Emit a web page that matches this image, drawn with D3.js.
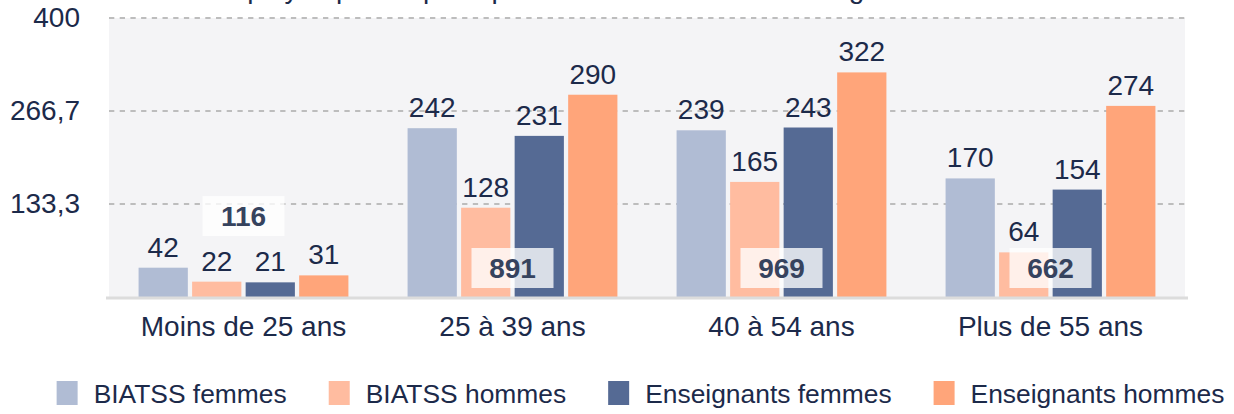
<!DOCTYPE html>
<html>
<head>
<meta charset="utf-8">
<script src="https://cdn.jsdelivr.net/npm/d3@7/dist/d3.min.js"></script>
<style>
  html, body { margin: 0; padding: 0; background: #ffffff; }
  svg { display: block; }
  text { font-family: "Liberation Sans", Arial, Helvetica, sans-serif; }
</style>
</head>
<body>
<svg id="chart" width="1234" height="414"></svg>
<script>
// ---- data ----
const titleText = "Nombre d'employés par corps et par sexe selon la tranche d'âge";
const categories = ["Moins de 25 ans", "25 à 39 ans", "40 à 54 ans", "Plus de 55 ans"];
const seriesNames = ["BIATSS femmes", "BIATSS hommes", "Enseignants femmes", "Enseignants hommes"];
const biatssFemmes = [42, 242, 239, 170];
const biatssHommes = [22, 128, 165, 64];
const enseignantsFemmes = [21, 231, 243, 154];
const enseignantsHommes = [31, 290, 322, 274];
const totals = [116, 891, 969, 662];
const yTickValues = [133.3, 266.7, 400];
const yTickLabels = ["133,3", "266,7", "400"];
const yMax = 400;
const seriesColors = ["#b0bcd4", "#ffbca0", "#556a94", "#ffa57a"];

const seriesValues = [biatssFemmes, biatssHommes, enseignantsFemmes, enseignantsHommes];

// ---- layout ----
const svg = d3.select("#chart");
const plotLeft = 109, plotRight = 1185, plotTop = 18, plotBottom = 297;
const textColor = "#1c2a4a";
const fs = 28;

const x0 = d3.scaleBand().domain(categories).range([plotLeft, plotRight])
  .paddingInner(0.22).paddingOuter(0.11);
const x1 = d3.scaleBand().domain(seriesNames).range([0, x0.bandwidth()])
  .paddingInner(0.08).paddingOuter(0);
const y = d3.scaleLinear().domain([0, yMax]).range([plotBottom, plotTop]);
const color = d3.scaleOrdinal().domain(seriesNames).range(seriesColors);

// title (cut off at the top in the reference)
svg.append("text")
  .attr("x", 80).attr("y", -2)
  .attr("font-size", fs).attr("fill", textColor)
  .text(titleText);

// plot background
svg.append("rect")
  .attr("x", plotLeft).attr("y", y(yMax))
  .attr("width", plotRight - plotLeft).attr("height", plotBottom - y(yMax))
  .attr("fill", "#f4f4f6");

// gridlines
svg.append("g").selectAll("line")
  .data(yTickValues).join("line")
  .attr("x1", plotLeft).attr("x2", plotRight)
  .attr("y1", d => y(d)).attr("y2", d => y(d))
  .attr("stroke", "#bdbdbd").attr("stroke-width", 2.2)
  .attr("stroke-dasharray", "5.3,5.4");

// y axis labels
const yAxis = d3.axisLeft(y).tickValues(yTickValues)
  .tickFormat((d, i) => yTickLabels[i]).tickSize(0).tickPadding(0);
const yAxisG = svg.append("g").attr("transform", `translate(${80},0)`).call(yAxis);
yAxisG.select(".domain").remove();
yAxisG.selectAll("text")
  .attr("font-family", "'Liberation Sans', Arial, sans-serif")
  .attr("font-size", fs).attr("fill", textColor);

// bars
const groups = svg.append("g").selectAll("g")
  .data(categories).join("g")
  .attr("transform", d => `translate(${x0(d)},0)`);

groups.selectAll("rect")
  .data((c, ci) => seriesNames.map((s, si) => ({ s, v: seriesValues[si][ci] })))
  .join("rect")
  .attr("x", d => x1(d.s)).attr("width", x1.bandwidth())
  .attr("y", d => y(d.v)).attr("height", d => y(0) - y(d.v))
  .attr("fill", d => color(d.s));

// value labels
groups.selectAll("text.val")
  .data((c, ci) => seriesNames.map((s, si) => ({ s, v: seriesValues[si][ci] })))
  .join("text").attr("class", "val")
  .attr("x", d => x1(d.s) + x1.bandwidth() / 2)
  .attr("y", d => y(d.v) - 11)
  .attr("text-anchor", "middle")
  .attr("font-size", fs).attr("fill", textColor)
  .text(d => d.v);

// baseline
svg.append("line")
  .attr("x1", plotLeft - 3).attr("x2", plotRight + 3)
  .attr("y1", y(0) + 1).attr("y2", y(0) + 1)
  .attr("stroke", "#dcdcdc").attr("stroke-width", 3);

// total labels: at the total's height when it fits, else near the base
const totalG = svg.append("g").selectAll("g")
  .data(categories).join("g")
  .attr("transform", (c, i) => {
    const cy = totals[i] <= yMax ? y(totals[i]) : y(0) - 29;
    return `translate(${x0(c) + x0.bandwidth() / 2},${cy})`;
  });
totalG.append("rect")
  .attr("x", -41).attr("y", -20).attr("width", 82).attr("height", 40)
  .attr("fill", "#ffffff").attr("fill-opacity", 0.78);
totalG.append("text")
  .attr("text-anchor", "middle").attr("dy", "0.36em")
  .attr("font-size", fs).attr("font-weight", 700).attr("fill", "#36435e")
  .text((c, i) => totals[i]);

// category labels
svg.append("g").selectAll("text")
  .data(categories).join("text")
  .attr("x", d => x0(d) + x0.bandwidth() / 2)
  .attr("y", 336)
  .attr("text-anchor", "middle")
  .attr("font-size", fs).attr("fill", textColor)
  .text(d => d);

// legend
const legend = svg.append("g");
const items = legend.selectAll("g").data(seriesNames).join("g");
items.append("rect")
  .attr("x", 0).attr("y", 381).attr("width", 21).attr("height", 24)
  .attr("fill", d => color(d));
items.append("text")
  .attr("x", 37).attr("y", 403)
  .attr("font-size", 26.4).attr("fill", textColor)
  .text(d => d);
let cx = 0;
const offsets = [];
const gap = 42;
items.each(function() {
  offsets.push(cx);
  const w = d3.select(this).select("text").node().getComputedTextLength();
  cx += 37 + w + gap;
});
const totalW = cx - gap;
const startX = 640.5 - totalW / 2;
items.attr("transform", (d, i) => `translate(${startX + offsets[i]},0)`);
</script>
</body>
</html>
